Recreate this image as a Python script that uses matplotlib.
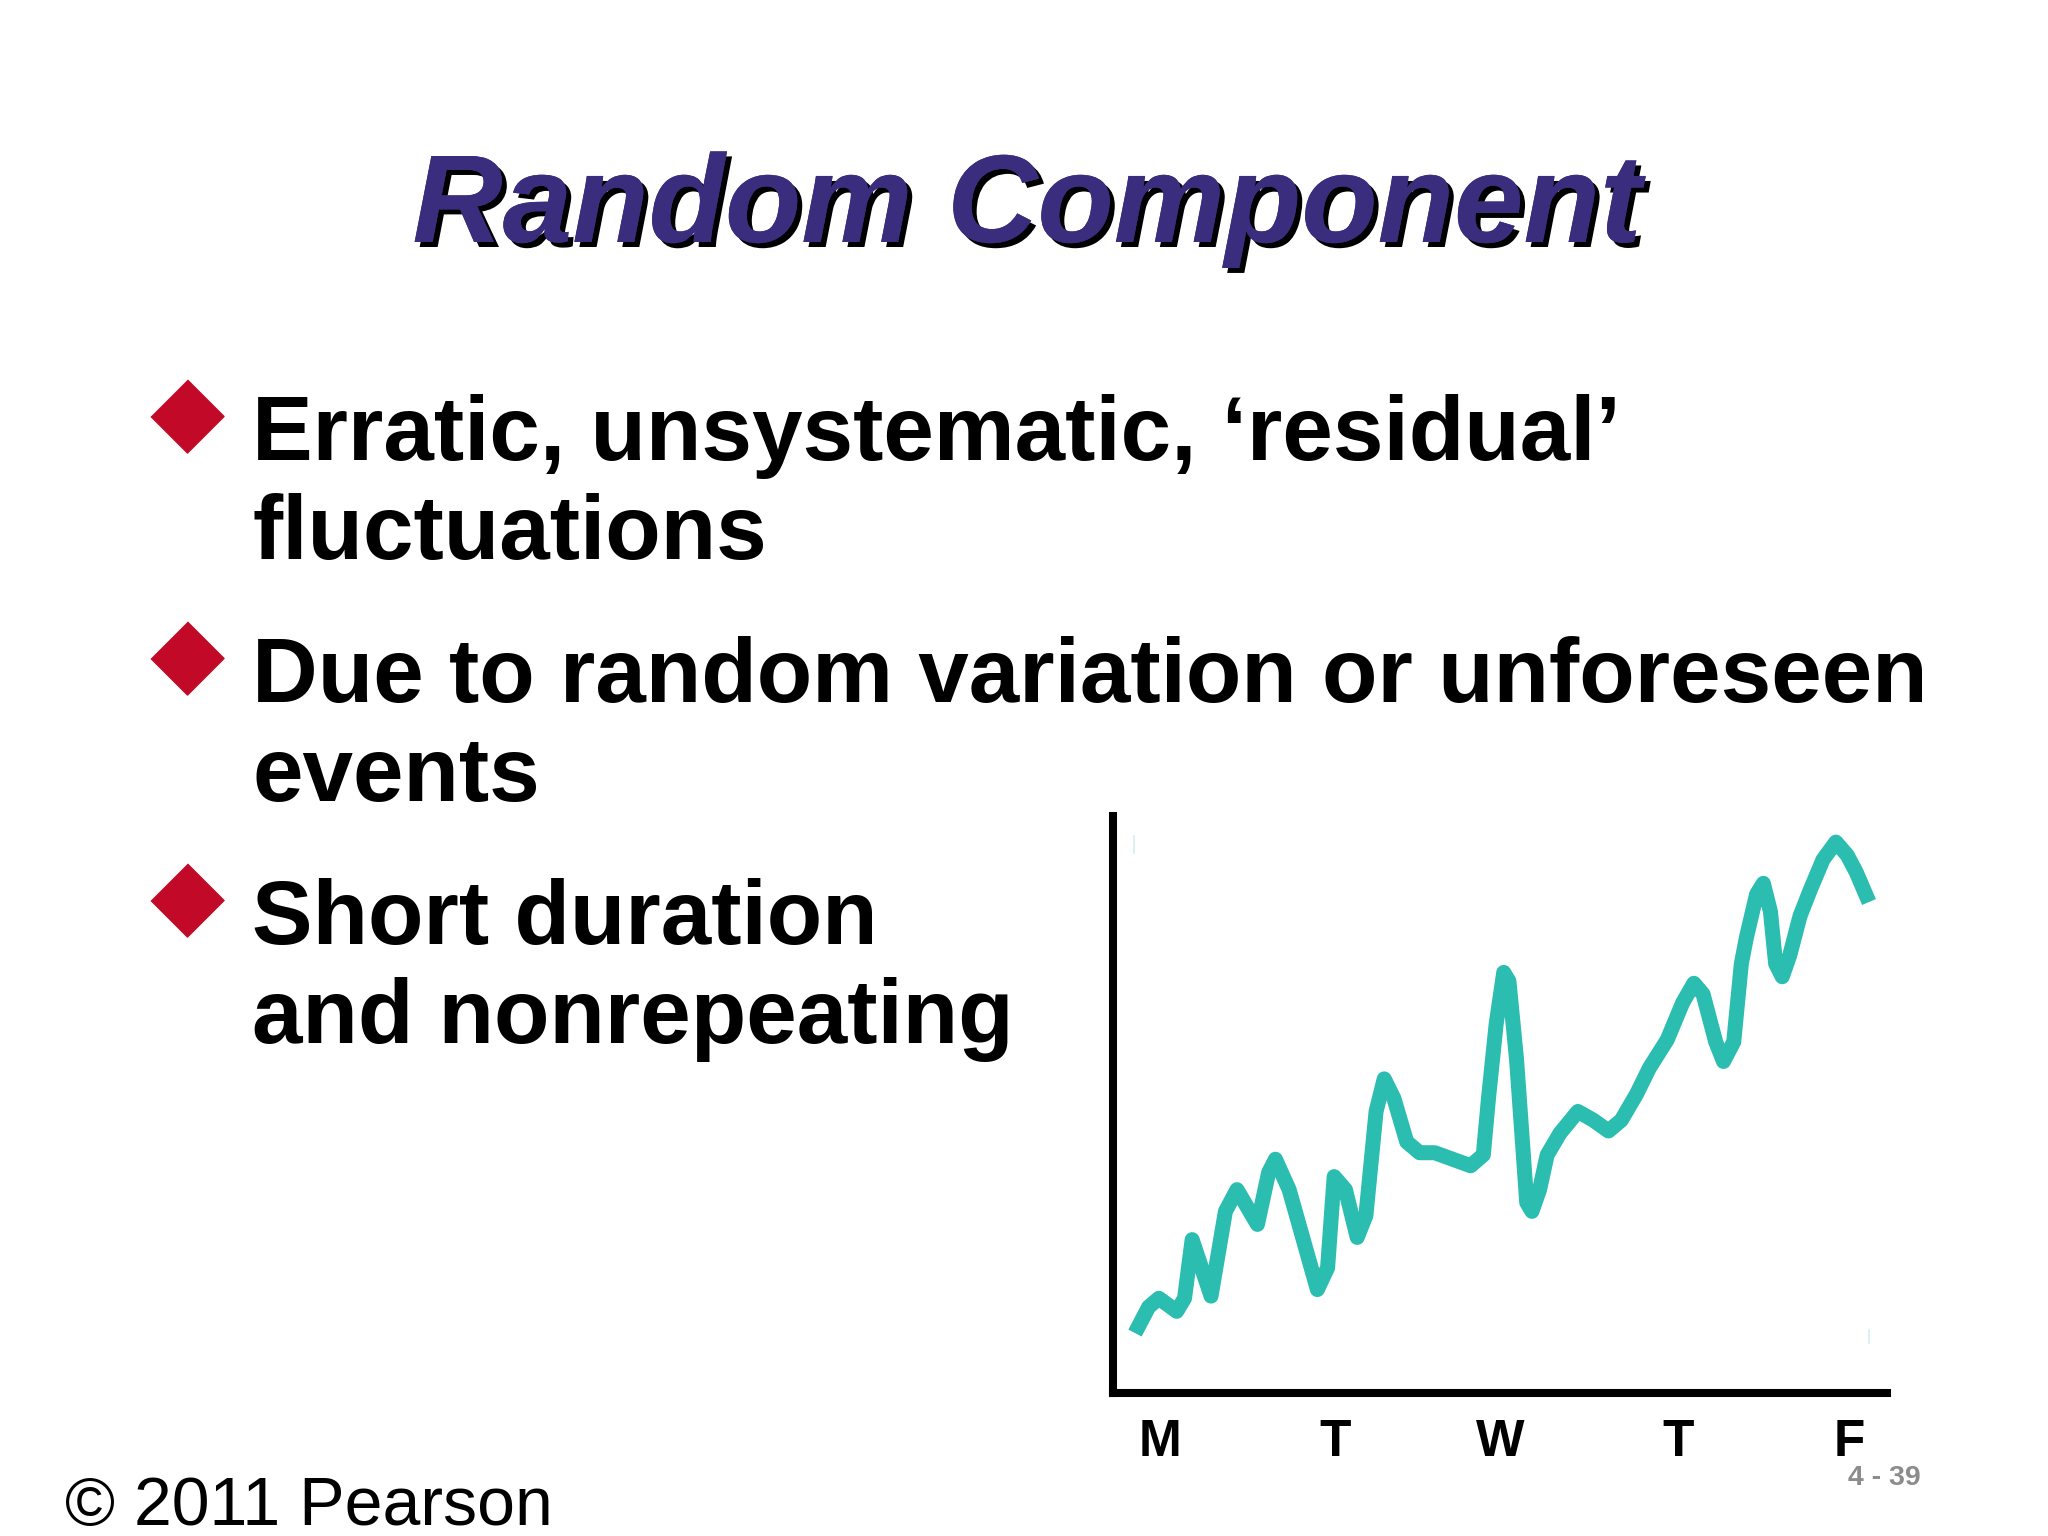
import matplotlib.pyplot as plt
import matplotlib.patheffects as pe

# Dados (curva irregular ao longo da semana)
day_x = [-0.147, -0.068, -0.009, 0.094, 0.139, 0.183, 0.292, 0.375, 0.442, 0.560,
         0.625, 0.664, 0.743, 0.906, 0.965, 1.003, 1.068, 1.136, 1.186, 1.245,
         1.292, 1.348, 1.422, 1.496, 1.584, 1.687, 1.791, 1.864, 1.894, 1.938,
         1.982, 2.012, 2.056, 2.115, 2.145, 2.189, 2.233, 2.307, 2.410, 2.499,
         2.587, 2.661, 2.749, 2.823, 2.926, 3.015, 3.080, 3.133, 3.206, 3.251,
         3.310, 3.354, 3.383, 3.442, 3.481, 3.522, 3.552, 3.590, 3.634, 3.693,
         3.752, 3.826, 3.900, 3.965, 4.018, 4.091]
value_y = [1.38, 1.98, 2.18, 1.88, 2.18, 3.53, 2.23, 4.18, 4.68, 3.88,
           5.08, 5.38, 4.68, 2.38, 2.88, 4.98, 4.68, 3.58, 4.08, 6.48,
           7.23, 6.78, 5.78, 5.53, 5.53, 5.38, 5.23, 5.48, 6.78, 8.48,
           9.68, 9.48, 7.68, 4.38, 4.18, 4.68, 5.48, 5.98, 6.48, 6.28,
           6.03, 6.28, 6.88, 7.48, 8.13, 8.98, 9.43, 9.18, 8.08, 7.63,
           8.08, 9.88, 10.48, 11.48, 11.73, 11.08, 9.88, 9.58, 10.08, 10.98,
           11.58, 12.28, 12.68, 12.38, 11.98, 11.30]

day_labels = ['M', 'T', 'W', 'T', 'F']
day_ticks = [0.0, 1.01, 1.96, 2.99, 3.98]

title = 'Random Component'
bullets = [
    ['Erratic, unsystematic, \u2018residual\u2019', 'fluctuations'],
    ['Due to random variation or unforeseen', 'events'],
    ['Short duration', 'and nonrepeating'],
]

teal = '#2abdb0'
purple = '#3a2d7d'
red = '#c20a28'

fig = plt.figure(figsize=(20.48, 15.36), dpi=100)
fig.patch.set_facecolor('white')

# Eixo de fundo em pixels para os textos do slide
bg = fig.add_axes([0, 0, 1, 1])
bg.set_xlim(0, 2048)
bg.set_ylim(1536, 0)
bg.axis('off')

bg.text(1027, 242, title, ha='center', va='baseline', fontsize=90,
        family='Liberation Sans', weight='bold', style='italic', color=purple,
        path_effects=[pe.withSimplePatchShadow(offset=(3.6, -3.6), shadow_rgbFace='black', alpha=1.0),
                      pe.Normal()])

diamond = [(0, 1), (1, 0), (0, -1), (-1, 0)]
for i, lines in enumerate(bullets):
    y0 = 460 + i * 242
    bg.plot(187, y0 - 44, marker=diamond, markersize=52.6, color=red, linestyle='none')
    for j, line in enumerate(lines):
        bg.text(252, y0 + j * 99, line, ha='left', va='baseline', fontsize=65.4,
                family='Liberation Sans', weight='bold', color='black')

bg.text(65, 1525, '\u00a9 2011 Pearson', ha='left', va='baseline', fontsize=49,
        family='Liberation Sans', color='black')
bg.text(1848, 1478, '4 - 39', ha='left', va='center', fontsize=20.5,
        family='Liberation Sans', weight='bold', color='#8c8c8c')

# Gráfico
ax = fig.add_axes([1113 / 2048, 1 - 1393 / 1536, 774 / 2048, 577 / 1536])
ax.set_facecolor('none')
ax.plot(day_x, value_y, color=teal, linewidth=10.8, solid_joinstyle='round',
        solid_capstyle='butt')
ax.plot([-0.153, -0.153], [12.43, 12.82], color='#d3efec', linewidth=1.2)
ax.plot([4.09, 4.09], [1.15, 1.45], color='#d3efec', linewidth=1.2)
ax.set_xlim(-0.274, 4.195)
ax.set_ylim(0, 13.28)
ax.spines['top'].set_visible(False)
ax.spines['right'].set_visible(False)
for s in ['left', 'bottom']:
    ax.spines[s].set_linewidth(5.8)
    ax.spines[s].set_color('black')
ax.set_xticks(day_ticks)
ax.set_xticklabels(day_labels, fontsize=37, weight='bold', family='Liberation Sans')
ax.tick_params(axis='x', length=0, pad=18)
ax.set_yticks([])

plt.savefig('out.png', dpi=100)
